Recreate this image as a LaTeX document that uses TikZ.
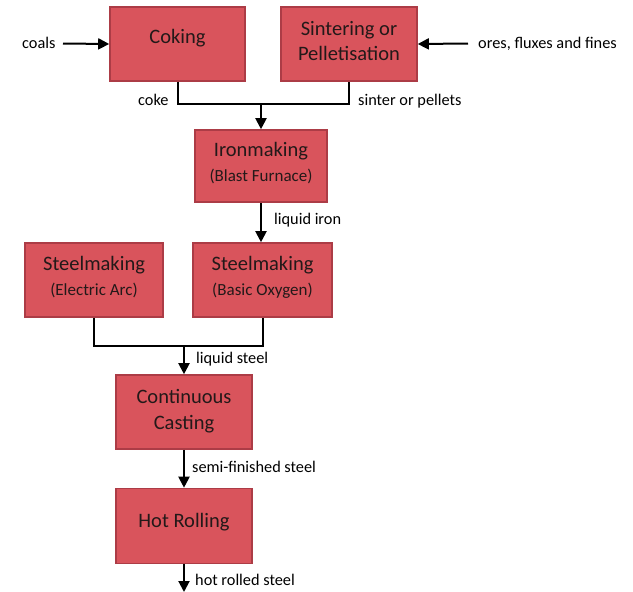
\documentclass[tikz,border=0pt]{standalone}
\usepackage{fontspec}
\setmainfont{Carlito}
\usetikzlibrary{arrows.meta}
\definecolor{boxfill}{RGB}{217,84,92}
\definecolor{boxedge}{RGB}{172,60,70}
\definecolor{boxtext}{RGB}{35,25,25}
\begin{document}
\begin{tikzpicture}[x=1pt,y=-1pt,
  box/.style={draw=boxedge,fill=boxfill,line width=1.6pt,inner sep=0pt},
  ttl/.style={anchor=base,inner sep=0pt,text=boxtext,font=\fontsize{20.5}{24}\selectfont},
  sub/.style={anchor=base,inner sep=0pt,text=boxtext,font=\fontsize{17}{20}\selectfont},
  lbl/.style={anchor=base west,inner sep=0pt,font=\fontsize{16.3}{19}\selectfont},
  conn/.style={line width=2pt},
  arr/.style={line width=2pt,-{Triangle[length=11pt,width=11pt]}}]
\useasboundingbox (0,0) rectangle (633,592);
% boxes
\node[box,minimum width=135pt,minimum height=74pt] (coking) at (177.5,44) {};
\node[box,minimum width=136pt,minimum height=74pt] (sinter) at (349,44) {};
\node[box,minimum width=132pt,minimum height=72pt] (iron) at (261,166) {};
\node[box,minimum width=138pt,minimum height=74pt] (ea) at (94,280) {};
\node[box,minimum width=139pt,minimum height=74pt] (bo) at (262.5,280) {};
\node[box,minimum width=136pt,minimum height=74pt] (cc) at (184,412) {};
\node[box,minimum width=136pt,minimum height=75pt] (hr) at (184,526) {};
% box texts
\node[ttl] (tcoking) at (177.5,43) {Coking};
\node[ttl] (tsinter1) at (349,35) {Sintering or};
\node[ttl] (tsinter2) at (349,60) {Pelletisation};
\node[ttl] (tiron1) at (261,156) {Ironmaking};
\node[sub] (tiron2) at (261,181) {(Blast Furnace)};
\node[ttl] (tea1) at (94,270) {Steelmaking};
\node[sub] (tea2) at (94,295) {(Electric Arc)};
\node[ttl] (tbo1) at (262.5,270) {Steelmaking};
\node[sub] (tbo2) at (262.5,295) {(Basic Oxygen)};
\node[ttl] (tcc1) at (184,403) {Continuous};
\node[ttl] (tcc2) at (184,429) {Casting};
\node[ttl] (thr) at (184,527) {Hot Rolling};
% labels
\node[lbl] (lcoals) at (22,48) {coals};
\node[lbl] (lores) at (478,48) {ores, fluxes and fines};
\node[lbl] (lcoke) at (138,105) {coke};
\node[lbl] (lsinter) at (358,105) {sinter or pellets};
\node[lbl] (liron) at (274,224) {liquid iron};
\node[lbl] (lsteel) at (196,363) {liquid steel};
\node[lbl] (lsemi) at (192,472) {semi-finished steel};
\node[lbl] (lhot) at (195,585) {hot rolled steel};
% coordinates
\coordinate (c1) at (63,43.5);
\coordinate (o1) at (468,43.5);
\coordinate (j1) at (261,104);
\coordinate (j2) at (184,346);
\coordinate (e1) at (184,592);
% connectors
\draw[arr] (c1) -- (coking.west);
\draw[arr] (o1) -- (sinter.east);
\draw[conn] (coking.south) |- (j1) -| (sinter.south);
\draw[arr] (j1) -- (iron.north);
\draw[arr] (iron.south) -- (iron.south |- bo.north);
\draw[conn] (ea.south) |- (j2) -| (bo.south);
\draw[arr] (j2) -- (cc.north);
\draw[arr] (cc.south) -- (hr.north);
\draw[arr] (hr.south) -- (e1);
\end{tikzpicture}
\end{document}
